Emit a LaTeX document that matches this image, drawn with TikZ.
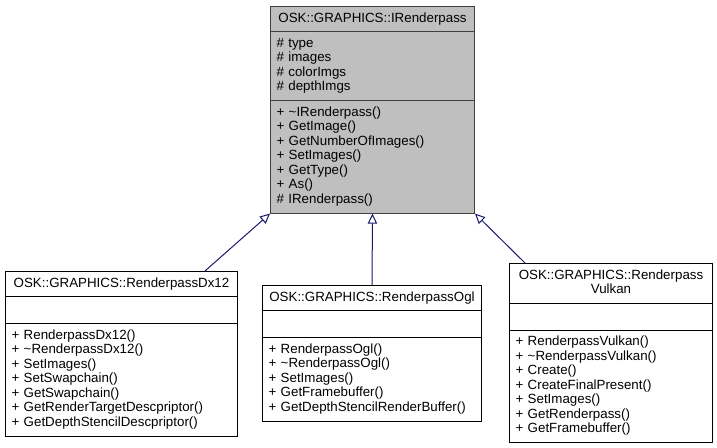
\documentclass[tikz,border=0pt]{standalone}
\usepackage{fontspec}
\setmainfont{Liberation Sans}
\usetikzlibrary{shapes.multipart,arrows.meta}

\definecolor{edgeblue}{RGB}{25,25,112}
\definecolor{basefill}{RGB}{191,191,191}
\definecolor{baseline}{RGB}{64,64,64}

\newcommand{\ctr}[1]{\makebox[\hsize]{#1}}
\newcommand{\nomembers}{\rule{0pt}{12pt}}

\tikzset{
classbox/.style={rectangle split, rectangle split parts=3, draw=black,
  line width=0.75pt, anchor=north west, inner xsep=4.5pt, inner ysep=3.7pt,
  align=left, font=\fontsize{10}{10.875}\selectfont},
basebox/.style={classbox, draw=baseline, fill=basefill},
inherit/.style={draw=edgeblue, line width=0.75pt,
  -{Triangle[open,length=7.5pt,width=7pt]}},
}

\begin{document}
\begin{tikzpicture}[x=0.75pt,y=-0.75pt]
\useasboundingbox (0,0) rectangle (717,448);
%% base class
\node[basebox, text width=144pt] (base) at (270,6)
  {\ctr{\strut OSK::GRAPHICS::IRenderpass}
   \nodepart{two}\strut\# type\\\# images\\\# colorImgs\\\# depthImgs\strut
   \nodepart{three}\strut+ \textasciitilde IRenderpass()\\+ GetImage()\\+ GetNumberOfImages()\\+ SetImages()\\+ GetType()\\+ As()\\\# IRenderpass()\strut};
%% derived classes
\node[classbox, text width=165pt] (dx12) at (5,271)
  {\ctr{\strut OSK::GRAPHICS::RenderpassDx12}
   \nodepart{two}\nomembers
   \nodepart{three}\strut+ RenderpassDx12()\\+ \textasciitilde RenderpassDx12()\\+ SetImages()\\+ SetSwapchain()\\+ GetSwapchain()\\+ GetRenderTargetDescpriptor()\\+ GetDepthStencilDescpriptor()\strut};
\node[classbox, text width=155.25pt] (ogl) at (262,285)
  {\ctr{\strut OSK::GRAPHICS::RenderpassOgl}
   \nodepart{two}\nomembers
   \nodepart{three}\strut+ RenderpassOgl()\\+ \textasciitilde RenderpassOgl()\\+ SetImages()\\+ GetFramebuffer()\\+ GetDepthStencilRenderBuffer()\strut};
\node[classbox, text width=143.25pt] (vulkan) at (509,263)
  {\ctr{\strut OSK::GRAPHICS::Renderpass}\\\ctr{Vulkan\strut}
   \nodepart{two}\nomembers
   \nodepart{three}\strut+ RenderpassVulkan()\\+ \textasciitilde RenderpassVulkan()\\+ Create()\\+ CreateFinalPresent()\\+ SetImages()\\+ GetRenderpass()\\+ GetFramebuffer()\strut};
%% inheritance
\draw[inherit] ([xshift=62.6pt]dx12.north) -- (base.south west);
\draw[inherit] (ogl.north) -- (base.south);
\draw[inherit] ([xshift=-64.5pt]vulkan.north) -- (base.south east);
\end{tikzpicture}
\end{document}
